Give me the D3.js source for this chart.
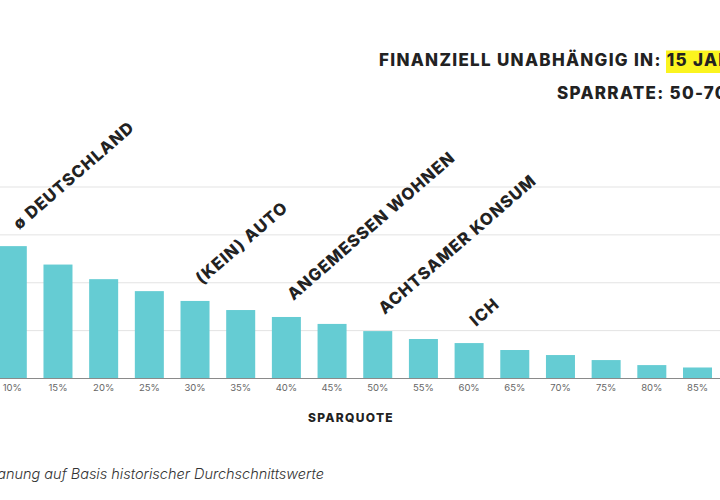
<!DOCTYPE html>
<html>
<head>
<meta charset="utf-8">
<script src="https://cdn.jsdelivr.net/npm/d3@7"></script>
<style>
  body { margin: 0; background: #fff; }
  svg { display: block; font-family: Inter, "Open Sans", sans-serif; }
</style>
</head>
<body>
<div id="chart-area"></div>
<script>
// Sparquote -> Jahre bis zur finanziellen Unabhängigkeit
var quoten = ["10%", "15%", "20%", "25%", "30%", "35%", "40%", "45%", "50%", "55%", "60%", "65%", "70%", "75%", "80%", "85%"];
var jahre  = [55.3, 47.6, 41.5, 36.5, 32.4, 28.6, 25.7, 22.8, 19.8, 16.5, 14.8, 11.9, 9.8, 7.7, 5.6, 4.6];
var gridTicks = [20, 40, 60, 80];

// Markierungen an einzelnen Balken
var labelQuoten = ["10%", "30%", "40%", "50%", "60%"];
var labelTexte  = ["ø DEUTSCHLAND", "(KEIN) AUTO", "ANGEMESSEN WOHNEN", "ACHTSAMER KONSUM", "ICH"];

var width = 720, height = 500;

var svg = d3.select("#chart-area").append("svg")
    .attr("width", width)
    .attr("height", height);

var data = quoten.map(function(q, i){ return { q: q, v: jahre[i] }; });

// Scales (chart is cropped on the left/right like the original)
var step = 45.68;
var x = d3.scaleBand()
    .domain(quoten)
    .range([12.3 - step / 2, 12.3 - step / 2 + step * quoten.length])
    .paddingInner(0.365)
    .paddingOuter(0.1825);

var y = d3.scaleLinear()
    .domain([0, 80])
    .range([378.5, 187]);

// Gridlines
svg.append("g")
    .selectAll("line")
    .data(gridTicks)
    .enter()
    .append("line")
    .attr("x1", 0)
    .attr("x2", width)
    .attr("y1", function(d){ return y(d); })
    .attr("y2", function(d){ return y(d); })
    .attr("stroke", "#e3e3e3")
    .attr("stroke-width", 1);

// Bars
svg.append("g")
    .selectAll("rect")
    .data(data)
    .enter()
    .append("rect")
    .attr("x", function(d){ return x(d.q); })
    .attr("y", function(d){ return y(d.v); })
    .attr("width", x.bandwidth())
    .attr("height", function(d){ return y(0) - y(d.v); })
    .attr("fill", "#65ccd3");

// X axis
var xAxis = svg.append("g")
    .attr("transform", "translate(0," + y(0) + ")")
    .call(d3.axisBottom(x).tickSize(0).tickPadding(6));

xAxis.select(".domain").remove();
xAxis.append("line")
    .attr("x1", 0)
    .attr("x2", width)
    .attr("stroke", "#8a8a8a")
    .attr("stroke-width", 1);

xAxis.selectAll(".tick text")
    .attr("fill", "#666")
    .style("font-size", "9.5px")
    .style("font-family", "Inter, sans-serif");

// Axis title
svg.append("text")
    .attr("x", 351)
    .attr("y", 422)
    .attr("text-anchor", "middle")
    .attr("fill", "#222")
    .style("font-size", "12px")
    .style("font-weight", 800)
    .style("letter-spacing", "1.3px")
    .text("SPARQUOTE");

// Rotated bar labels
var labels = labelQuoten.map(function(q, i){
    return { q: q, t: labelTexte[i], v: jahre[quoten.indexOf(q)] };
});

svg.append("g")
    .selectAll("text")
    .data(labels)
    .enter()
    .append("text")
    .attr("transform", function(d){
        var cx = x(d.q) + x.bandwidth() / 2 + 7;
        var cy = y(d.v) - 16;
        return "translate(" + cx + "," + cy + ") rotate(-41)";
    })
    .attr("fill", "#222")
    .style("font-size", "16.5px")
    .style("font-weight", 800)
    .style("letter-spacing", "1px")
    .text(function(d){ return d.t; });

// Header
var head = svg.append("g");

head.append("rect")
    .attr("x", 666)
    .attr("y", 50.5)
    .attr("width", 60)
    .attr("height", 22.5)
    .attr("fill", "#fbf41f");

head.append("text")
    .attr("x", 379)
    .attr("y", 65.5)
    .attr("fill", "#222")
    .style("font-size", "17px")
    .style("font-weight", 800)
    .style("letter-spacing", "1.3px")
    .text("FINANZIELL UNABHÄNGIG IN: 15 JAHREN");

head.append("text")
    .attr("x", 557)
    .attr("y", 99)
    .attr("fill", "#222")
    .style("font-size", "17px")
    .style("font-weight", 800)
    .style("letter-spacing", "1.3px")
    .text("SPARRATE: 50-70%");

// Footnote
svg.append("text")
    .attr("x", 324)
    .attr("y", 479)
    .attr("text-anchor", "end")
    .attr("fill", "#333")
    .style("font-size", "14.5px")
    .style("font-style", "italic")
    .style("font-weight", 300)
    .text("Planung auf Basis historischer Durchschnittswerte");
</script>
</body>
</html>
